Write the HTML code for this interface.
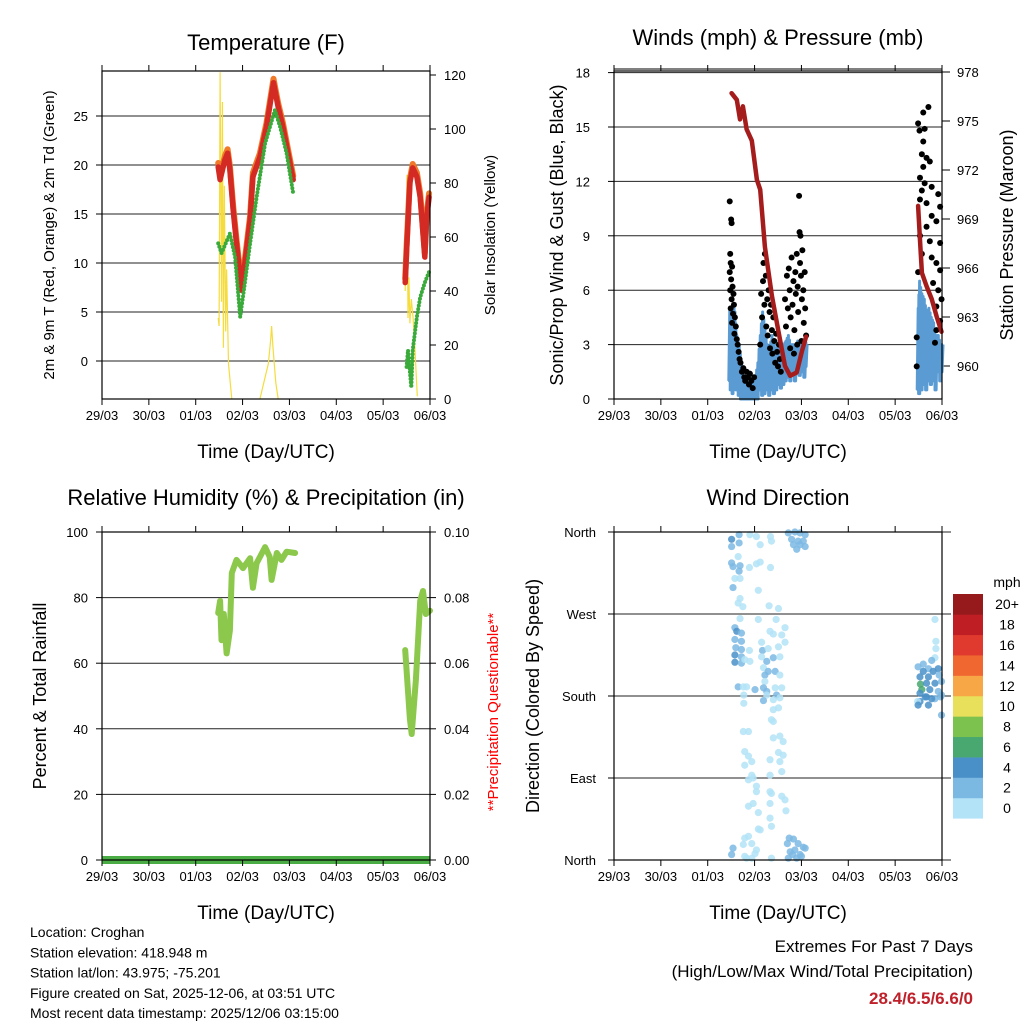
<!DOCTYPE html>
<html><head><meta charset="utf-8"><style>
body{margin:0;background:#fff}
svg{display:block;font-family:"Liberation Sans",Arial,sans-serif}
</style></head><body>
<svg id="chart" width="1024" height="1024" viewBox="0 0 1024 1024" xmlns="http://www.w3.org/2000/svg"></svg>
<script>
// ---------- DATA ----------
const dayLabels=["29/03","30/03","01/03","02/03","03/03","04/03","05/03","06/03"];
const tempDays=[2.48,2.52,2.62,2.68,2.73,2.80,2.87,2.95,2.98,3.05,3.16,3.22,3.37,3.51,3.66,3.76,3.86,3.97,4.08,6.47,6.50,6.57,6.63,6.72,6.79,6.85,6.89,6.93,6.98];
const tempVals=[19.8,18.5,20.5,21.2,19.5,15.4,12.0,8.6,7.2,10.0,14.4,18.8,20.8,23.9,28.4,25.9,23.9,21.2,18.5,8.0,11.3,18.2,19.7,18.8,16.7,13.0,10.6,14.7,16.7];
const tdDays=[2.48,2.55,2.73,2.84,2.95,3.05,3.16,3.30,3.48,3.69,3.80,3.94,4.08,6.50,6.53,6.60,6.63,6.72,6.79,6.89,6.98];
const tdVals=[12.0,11.0,13.0,10.6,4.5,8.0,12.0,16.7,22.2,25.6,23.9,21.2,17.1,-0.6,1.1,-2.7,1.1,4.5,6.5,8.0,9.1];
const solarDays=[2.48,2.50,2.52,2.55,2.57,2.59,2.61,2.64,2.66,2.70,2.77,3.37,3.55,3.60,3.62,3.65,3.71,3.76,6.47,6.49,6.51,6.53,6.55,6.57,6.60,6.64,6.68,6.73];
const solarVals=[30,27,121,36,110,19,79,25,48,13,0,0,13,22,27,19,6,0,40,58,83,30,45,28,37,30,18,1];
const presDays=[2.51,2.62,2.69,2.75,2.83,2.94,3.05,3.12,3.22,3.37,3.51,3.65,3.76,3.90,4.01,4.10,6.49,6.53,6.57,6.67,6.78,6.89,6.99];
const presVals=[976.7,976.3,975.1,975.9,974.5,973.8,971.4,970.8,967.3,964.3,962.1,960.0,959.4,959.6,960.9,961.8,969.8,967.7,965.7,964.9,964.1,963.0,962.1];
const gustDays=[2.47,2.50,2.51,2.48,2.49,2.52,2.47,2.50,2.53,2.48,2.55,2.51,2.56,2.49,2.54,2.58,2.52,2.60,2.57,2.62,2.64,2.66,2.68,2.70,2.73,2.76,2.78,2.80,2.83,2.86,2.88,2.90,2.93,2.96,2.99,
3.12,3.14,3.16,3.18,3.19,3.21,3.22,3.24,3.25,3.27,3.28,3.30,3.32,3.33,3.35,3.37,3.38,3.40,3.42,3.44,3.46,3.48,3.50,3.52,3.54,3.56,
3.65,3.67,3.69,3.71,3.73,3.75,3.77,3.79,3.81,3.83,3.85,3.87,3.88,3.90,3.92,3.93,3.95,3.96,3.97,3.98,3.99,4.01,4.02,4.04,4.05,4.07,4.08,4.10,3.76,3.84,3.91,4.00,
6.71,6.60,6.49,6.52,6.63,6.60,6.57,6.67,6.74,6.60,6.53,6.63,6.78,6.57,6.53,6.67,6.92,6.96,6.78,6.88,6.67,6.53,6.74,6.96,6.57,6.78,6.88,6.96,6.49,6.81,6.92,6.99,6.88,6.96,6.88,6.85,6.46,6.46];
const gustVals=[10.9,9.9,9.7,8.0,7.5,7.3,7.0,6.6,6.2,6.0,5.8,5.5,5.2,5.0,4.7,4.5,4.2,4.0,3.6,3.3,3.0,2.6,2.2,2.0,1.5,1.7,1.2,1.0,1.5,1.2,0.8,1.4,1.0,0.6,1.2,
3.0,5.8,4.5,6.5,7.5,5.2,8.0,6.8,4.0,5.5,3.5,6.0,4.8,2.8,5.2,3.8,2.5,4.5,3.2,2.0,3.6,2.6,1.8,3.0,2.2,1.5,
5.5,4.0,6.8,5.0,7.2,6.0,4.5,7.8,5.2,6.5,3.8,7.0,5.8,8.0,6.2,4.8,11.2,9.2,7.5,9.0,6.8,5.5,8.2,6.0,4.2,7.0,5.0,3.5,2.8,2.5,3.0,3.2,
16.1,15.8,15.2,14.8,14.9,14.2,13.5,13.3,13.1,12.8,12.2,11.9,11.7,11.5,11.0,10.8,11.3,10.6,10.1,9.8,9.5,9.0,8.7,8.6,8.0,7.8,7.5,7.1,7.0,6.4,6.0,5.5,5.1,4.3,3.8,3.1,3.4,1.8];
const windDays=[2.45,2.48,2.52,2.56,2.60,2.65,2.70,2.75,2.80,2.85,2.90,2.95,3.00,3.05,3.10,3.15,3.20,3.25,3.30,3.35,3.40,3.45,3.50,3.55,3.60,3.65,3.70,3.75,3.80,3.85,3.90,3.95,4.00,4.05,4.10,6.47,6.50,6.55,6.60,6.65,6.70,6.75,6.80,6.85,6.90,6.95,7.00];
const windLo=[1.0,0.5,0.3,0.8,0.5,0.2,0,0,0,0,0,0,0,0,0.5,0.2,0.3,0.5,0.2,0.5,0.3,0.5,0.8,0.6,0.8,1.0,1.2,1.0,1.3,1.0,1.5,1.3,1.5,1.2,1.8,0.5,0.3,0.5,0.8,0.5,1.0,0.8,1.0,0.5,1.5,1.0,1.5];
const windHi=[5.0,4.5,5.2,4.8,3.5,3.0,2.0,1.2,1.0,0.8,1.0,0.8,1.2,2.0,3.5,4.8,4.0,3.0,2.8,3.5,3.0,2.6,3.2,2.8,3.0,3.2,3.5,3.0,3.0,2.8,3.2,3.0,2.8,3.2,3.0,5.0,6.5,5.8,5.5,4.8,5.0,4.5,4.2,3.5,3.5,3.0,3.0];
const rhDays=[2.48,2.52,2.55,2.60,2.66,2.73,2.77,2.87,3.01,3.16,3.22,3.30,3.48,3.58,3.62,3.73,3.83,3.94,4.12,6.47,6.57,6.61,6.70,6.79,6.85,6.91,7.0];
const rhVals=[75.3,79,67,75,63,70,87.5,91.5,89,92,83,90.5,95.4,92.4,85.4,93.6,91.5,94,93.6,64,43,38.4,55,79,82,75,76];
const precipDays=[0,7];
const precipVals=[0,0];
const dirDays=[2.51,2.67,2.67,2.51,2.65,2.51,2.54,2.69,2.67,2.58,2.69,2.54,2.69,2.65,2.75,2.69,2.58,2.62,2.72,2.58,2.72,2.60,2.72,2.58,2.72,2.58,2.72,2.79,2.65,2.76,2.77,2.77,2.76,2.87,2.79,2.87,2.94,2.79,2.94,2.87,2.54,2.51,2.79,2.76,2.83,
2.90,3.04,3.12,3.34,3.36,3.04,3.34,2.89,3.08,3.31,3.51,3.08,3.46,3.33,3.40,3.65,3.58,3.15,3.17,2.89,3.29,3.51,3.65,3.15,3.26,3.40,3.54,2.90,3.19,3.22,3.29,3.44,3.54,3.22,3.19,3.26,3.01,2.83,3.44,3.58,3.26,3.47,3.19,3.40,3.54,3.51,3.40,3.36,3.40,3.54,3.40,3.61,3.51,3.61,3.33,3.54,3.33,3.58,2.97,3.04,3.04,3.33,3.36,2.97,3.33,3.58,3.65,2.87,3.08,3.67,3.33,3.36,3.08,3.12,2.87,2.94,3.01,3.04,2.79,3.36,2.94,3.12,
3.72,3.86,3.97,4.08,3.79,3.93,4.04,3.83,3.97,3.90,4.08,3.74,3.70,3.83,3.93,4.04,3.76,3.86,3.97,4.08,3.72,3.90,4.00,3.81,
6.85,6.87,6.87,6.85,6.78,6.60,6.49,6.71,6.92,6.60,6.81,6.53,6.71,6.94,6.54,6.67,6.85,6.99,6.57,6.74,6.92,6.53,6.67,6.85,6.99,6.53,6.64,6.78,6.97,6.48,6.71,6.49,6.99];
const dirVals=[352,357,348,344,333,326,322,323,317,309,309,299,287,282,278,265,255,251,249,242,240,233,231,225,223,217,216,220,190,190,181,172,141,141,119,114,108,104,93,88,13,6,24,17,2,
357,355,346,355,350,325,321,321,296,279,276,264,264,251,248,255,247,239,230,230,232,234,239,223,218,222,223,218,211,203,207,207,203,196,189,185,187,190,189,189,181,181,175,176,178,167,165,154,152,136,134,130,118,115,110,108,93,97,90,81,75,75,73,62,62,70,66,59,52,54,46,37,34,33,26,18,7,11,4,2,2,327,
359,360,359,357,352,350,350,346,346,341,344,24,18,23,18,14,9,11,6,13,2,2,4,6,
264,240,232,222,219,215,212,210,210,207,207,201,201,203,193,194,194,196,187,187,185,183,179,177,181,174,179,177,179,174,170,170,159];
const dirSpd=[4,3,3,2,1,3,3,3,3,1,1,3,1,1,1,1,3,4,3,3,3,3,3,4,2,4,3,1,3,1,1,1,1,1,1,1,1,1,1,1,3,3,1,1,1,
1,1,1,1,1,1,1,1,1,1,1,1,1,1,1,1,1,1,3,1,1,1,1,1,2,3,1,1,1,2,3,2,1,1,3,2,2,1,1,1,1,3,3,1,1,1,1,1,1,1,1,1,1,1,1,1,1,1,1,1,1,1,1,1,1,1,1,1,1,1,1,1,1,1,1,1,1,1,1,1,1,1,
2,2,2,2,2,2,2,2,2,3,2,2,2,2,2,3,2,2,2,3,2,2,2,2,
1,1,1,1,2,2,2,2,4,4,4,4,4,2,6,4,4,2,6,4,2,4,4,2,2,4,4,4,2,1,4,4,2];
const cbLabels=["0","2","4","6","8","10","12","14","16","18","20+"];
const cbColors=["#b3e3f7","#7bb9e3","#4a90c8","#48a870","#7cc24e","#e8e05a","#f7a745","#f06730","#e03a2e","#bf1e24","#961a1c"];

// ---------- HELPERS ----------
const svg=document.getElementById('chart');
const NS="http://www.w3.org/2000/svg";
function mk(tag,attrs,parent){const e=document.createElementNS(NS,tag);for(const k in attrs)e.setAttribute(k,attrs[k]);(parent||svg).appendChild(e);return e;}
function txt(s,x,y,size,anchor,parent,extra){const t=mk('text',Object.assign({x:x,y:y,'font-size':size,'text-anchor':anchor||'middle',fill:'#000'},extra||{}),parent);t.textContent=s;return t;}
function lin(d0,d1,r0,r1){return v=>r0+(v-d0)/(d1-d0)*(r1-r0);}
function ok(v){return typeof v==='number'&&isFinite(v);}
function segPath(xs,ys,fx,fy,gap){let d="";for(let i=0;i<xs.length;i++){if(!ok(xs[i])||!ok(ys[i]))continue;const br=d===""||xs[i]-xs[i-1]>gap;d+=(br?"M":"L")+fx(xs[i]).toFixed(1)+","+fy(ys[i]).toFixed(1);}return d;}

function panel(name){
  const g=mk('g',{});
  
  
  return g;
}
function frame(g,L,T,R,B,fx){
  const f=mk('rect',{x:L,y:T,width:R-L,height:B-T,fill:'none',stroke:'#000','stroke-width':1.2},g);
  
  
  const xt=mk('g',{},g);
  
  
  dayLabels.forEach((lab,i)=>{
    const x=fx(i);
    mk('line',{x1:x,y1:B,x2:x,y2:B+6,stroke:'#000'},xt);
    mk('line',{x1:x,y1:T,x2:x,y2:T-6,stroke:'#000'},xt);
    const t=txt(lab,x,B+21,13,'middle',xt);
    
    
  });
  const xl=txt("Time (Day/UTC)",(L+R)/2,B+59,19,'middle',g);
  
  
}
function hgrid(g,L,R,y,sx){mk('line',{x1:L,y1:y,x2:R+(sx||0),y2:y,stroke:'#222','stroke-width':1},g);}

// ---------- PANEL 1 ----------
(function(){
  const L=102,T=71,R=430,B=399;
  const g=panel('temperature-panel');
  const fx=lin(0,7,L,R), fy=lin(0,25,361,116), fs=lin(0,120,399,75);
  [0,5,10,15,20,25].forEach(v=>{hgrid(g,L,R,fy(v));mk('line',{x1:L-6,y1:fy(v),x2:L,y2:fy(v),stroke:'#000'},g);
    const t=txt(String(v),L-14,fy(v)+5,13,'end',g);});
  [0,20,40,60,80,100,120].forEach(v=>{mk('line',{x1:R,y1:fs(v),x2:R+6,y2:fs(v),stroke:'#000'},g);
    const t=txt(String(v),R+14,fs(v)+5,13,'start',g);});
  const solar=mk('path',{d:segPath(solarDays,solarVals,fx,fs,0.5),fill:'none',stroke:'#f5dc3c','stroke-width':1.2},g);
  
  const or=mk('path',{d:segPath(tempDays,tempVals.map(v=>v+0.4),fx,fy,0.5),fill:'none',stroke:'#f07a2a','stroke-width':6,'stroke-linejoin':'round','stroke-linecap':'round'},g);
  
  const rd=mk('path',{d:segPath(tempDays,tempVals,fx,fy,0.5),fill:'none',stroke:'#d42a24','stroke-width':5.5,'stroke-linejoin':'round','stroke-linecap':'round'},g);
  
  const gr=mk('path',{d:segPath(tdDays,tdVals,fx,fy,0.5),fill:'none',stroke:'#3aaa3a','stroke-width':4,'stroke-dasharray':'0 3.5','stroke-linecap':'round'},g);
  
  frame(g,L,T,R,B,fx);
  const tt=txt("Temperature (F)",(L+R)/2,50,22,'middle',g);
  const yl=txt("2m & 9m T (Red, Orange) & 2m Td (Green)",0,0,15,'middle',g,{transform:'translate(54,235) rotate(-90)'});
  
  const yr=txt("Solar Insolation (Yellow)",0,0,15,'middle',g,{transform:'translate(495,235) rotate(-90)'});
  
})();

// ---------- PANEL 2 ----------
(function(){
  const L=614,T=71,R=942,B=399;
  const g=panel('winds-pressure-panel');
  const fx=lin(0,7,L,R), fy=lin(0,18,399,72.6), fp=lin(960,978,366,72);
  [0,3,6,9,12,15,18].forEach(v=>{hgrid(g,L,R,fy(v));mk('line',{x1:L-6,y1:fy(v),x2:L,y2:fy(v),stroke:'#000'},g);
    const t=txt(String(v),L-24,fy(v)+5,13,'end',g);});
  [960,963,966,969,972,975,978].forEach(v=>{mk('line',{x1:R,y1:fp(v),x2:R+8,y2:fp(v),stroke:'#000'},g);
    const t=txt(String(v),R+15,fp(v)+5,13,'start',g);});
  let d="";
  for(let i=0;i<windDays.length;i++){
    const br=i==0||windDays[i]-windDays[i-1]>0.5;
    const x=fx(windDays[i]);
    d+=(br?"M":"L")+x.toFixed(1)+","+fy(windLo[i]).toFixed(1)+"L"+(x+1).toFixed(1)+","+fy(windHi[i]).toFixed(1);
    if(i<windDays.length-1 && windDays[i+1]-windDays[i]<=0.5){const xm=(x+fx(windDays[i+1]))/2;d+="L"+xm.toFixed(1)+","+fy(windLo[i]).toFixed(1)+"L"+(xm+1).toFixed(1)+","+fy((windHi[i]+windHi[i+1])/2).toFixed(1);}
  }
  const bl=mk('path',{d:d,fill:'none',stroke:'#5a9bd4','stroke-width':3,'stroke-linejoin':'round'},g);
  
  const gg=mk('g',{},g);
  for(let i=0;i<gustDays.length;i++){
    if(!ok(gustDays[i])||!ok(gustVals[i]))continue;
    const c=mk('circle',{cx:fx(gustDays[i]),cy:fy(gustVals[i]),r:3,fill:'#000'},gg);
    
    
  }
  const pr=mk('path',{d:segPath(presDays,presVals,fx,fp,0.5),fill:'none',stroke:'#a51c1c','stroke-width':4.5,'stroke-linejoin':'round','stroke-linecap':'round'},g);
  
  frame(g,L,T,R,B,fx);
  mk('line',{x1:L,y1:T-2,x2:R,y2:T-2,stroke:'#000'},g);
  const tt=txt("Winds (mph) & Pressure (mb)",(L+R)/2,45,22,'middle',g);
  const yl=txt("Sonic/Prop Wind & Gust (Blue, Black)",0,0,18,'middle',g,{transform:'translate(563,235) rotate(-90)'});
  
  const yr=txt("Station Pressure (Maroon)",0,0,18,'middle',g,{transform:'translate(1013,235) rotate(-90)'});
  
})();

// ---------- PANEL 3 ----------
(function(){
  const L=102,T=532,R=430,B=860;
  const g=panel('humidity-precip-panel');
  const fx=lin(0,7,L,R), fy=lin(0,100,B,T), fq=lin(0,0.1,B,T);
  [0,20,40,60,80,100].forEach(v=>{hgrid(g,L,R,fy(v));mk('line',{x1:L-6,y1:fy(v),x2:L,y2:fy(v),stroke:'#000'},g);
    const t=txt(String(v),L-14,fy(v)+5,13,'end',g);});
  [0,0.02,0.04,0.06,0.08,0.1].forEach(v=>{mk('line',{x1:R,y1:fq(v),x2:R+6,y2:fq(v),stroke:'#000'},g);
    const t=txt(v.toFixed(2),R+14,fq(v)+5,13,'start',g);});
  const pq=mk('path',{d:segPath(precipDays,precipVals,fx,fq,9),fill:'none',stroke:'#4aac44','stroke-width':8},g);
  
  const rh=mk('path',{d:segPath(rhDays,rhVals,fx,fy,0.5),fill:'none',stroke:'#8cc84c','stroke-width':6,'stroke-linejoin':'round','stroke-linecap':'round'},g);
  
  frame(g,L,T,R,B,fx);
  const tt=txt("Relative Humidity (%) & Precipitation (in)",(L+R)/2,505,22,'middle',g);
  const yl=txt("Percent & Total Rainfall",0,0,18,'middle',g,{transform:'translate(46,696) rotate(-90)'});
  
  const yr=txt("**Precipitation Questionable**",0,0,15,'middle',g,{transform:'translate(498,712) rotate(-90)',fill:'#ff0000'});
  
})();

// ---------- PANEL 4 ----------
(function(){
  const L=614,T=532,R=942,B=860;
  const g=panel('wind-direction-panel');
  const fx=lin(0,7,L,R), fy=lin(0,360,B,T);
  const names=["North","East","South","West","North"];
  [0,90,180,270,360].forEach((v,i)=>{hgrid(g,L,R,fy(v),9);mk('line',{x1:L-6,y1:fy(v),x2:L,y2:fy(v),stroke:'#000'},g);
    const t=txt(names[i],L-18,fy(v)+5,13,'end',g);});
  const pg=mk('g',{},g);
  for(let i=0;i<dirDays.length;i++){
    if(!ok(dirDays[i])||!ok(dirVals[i]))continue;
    const sp=ok(dirSpd[i])?dirSpd[i]:1;
    const idx=Math.min(10,Math.floor(sp/2));
    const c=mk('circle',{cx:fx(dirDays[i]),cy:fy(Math.min(360,dirVals[i])),r:3.6,fill:cbColors[idx],'fill-opacity':0.85},pg);
    
    
  }
  frame(g,L,T,R,B,fx);
  const tt=txt("Wind Direction",(L+R)/2,505,22,'middle',g);
  const yl=txt("Direction (Colored By Speed)",0,0,18,'middle',g,{transform:'translate(539,696) rotate(-90)'});
  
  const cb=mk('g',{},g);
  const bh=224.3/11;
  cbColors.forEach((col,i)=>{
    const y=818.3-(i+1)*bh;
    const r=mk('rect',{x:953,y:y,width:30,height:bh+0.3,fill:col},cb);
    
    
    const t=txt(cbLabels[i],1007,y+bh/2+5,14,'middle',cb);
    
    
  });
  const u=txt("mph",1007,587,14,'middle',cb);
})();

// ---------- FOOTER ----------
const info=["Location: Croghan","Station elevation: 418.948 m","Station lat/lon: 43.975; -75.201","Figure created on Sat, 2025-12-06, at 03:51 UTC","Most recent data timestamp: 2025/12/06 03:15:00"];
const infoNames=["station-location","station-elevation","station-latlon","figure-created","data-timestamp"];
info.forEach((s,i)=>{const t=txt(s,30,937+i*20.3,14,'start');});
const e1=txt("Extremes For Past 7 Days",973,952,17,'end');
const e2=txt("(High/Low/Max Wind/Total Precipitation)",973,977,17,'end');
const e3=txt("28.4/6.5/6.6/0",973,1004,17,'end',null,{fill:'#c0202a','font-weight':'bold'});
</script>
</body></html>
